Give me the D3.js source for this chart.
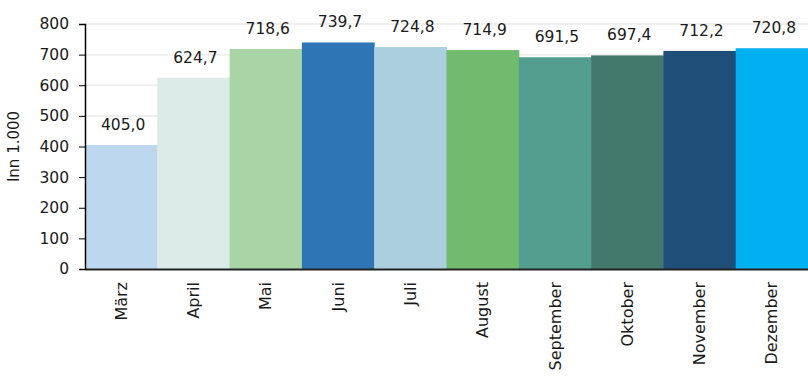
<!DOCTYPE html>
<html>
<head>
<meta charset="utf-8">
<script src="https://cdn.jsdelivr.net/npm/d3@7"></script>
<style>
  body { margin: 0; background: #fff; }
  svg text { font-family: "DejaVu Sans", sans-serif; fill: #1a1a1a; }
</style>
</head>
<body>
<svg id="chart" width="808" height="381"></svg>
<script>
let months = ['März','April','Mai','Juni','Juli','August','September','Oktober','November','Dezember']
let values = [405.0, 624.7, 718.6, 739.7, 724.8, 714.9, 691.5, 697.4, 712.2, 720.8]
let barColors = ['#bdd7ee','#dcebe7','#a9d4a6','#2e75b6','#abcfdf','#72bb6e','#549e8f','#43786c','#1f4e79','#00b0f0']
let yTicks = [0,100,200,300,400,500,600,700,800]

let margin = {top: 24, right: 0, bottom: 112, left: 85}
let svg = d3.select('#chart')
let width = 808 - margin.left - margin.right
let height = 381 - margin.top - margin.bottom

let g = svg.append('g').attr('transform', `translate(${margin.left},${margin.top})`)

let x = d3.scaleBand().domain(months).range([0, width]).padding(0)
let y = d3.scaleLinear().domain([0, 800]).range([height, 0])

// grid
g.selectAll('.grid').data(yTicks.slice(1)).join('line')
  .attr('x1', 0).attr('x2', width)
  .attr('y1', d => y(d)).attr('y2', d => y(d))
  .attr('stroke', '#efefef').attr('stroke-width', 2)

g.selectAll('.bar').data(values).join('rect')
  .attr('x', (d,i) => x(months[i]))
  .attr('y', d => y(d))
  .attr('width', x.bandwidth() + 0.5)
  .attr('height', d => height - y(d))
  .attr('fill', (d,i) => barColors[i])

g.selectAll('.lbl').data(values).join('text')
  .attr('x', (d,i) => x(months[i]) + x.bandwidth()/2 + 2)
  .attr('y', d => y(d) - 15)
  .attr('text-anchor', 'middle')
  .attr('font-size', 15.5)
  .text(d => d.toFixed(1).replace('.', ','))

// y axis
let yAxis = g.append('g').call(d3.axisLeft(y).tickValues(yTicks).tickSize(6).tickPadding(10))
yAxis.select('.domain').attr('stroke', '#000').attr('stroke-width', 1.5)
yAxis.selectAll('.tick line').attr('stroke', '#000')
yAxis.selectAll('text').attr('font-size', 15.5).attr('fill', '#1a1a1a')

// x axis
let xAxis = g.append('g').attr('transform', `translate(0,${height})`)
  .call(d3.axisBottom(x).tickSize(0).tickPadding(0))
xAxis.select('.domain').attr('stroke', '#222').attr('stroke-width', 2)
xAxis.selectAll('text')
  .attr('font-size', 16)
  .attr('fill', '#1a1a1a')
  .attr('transform', 'rotate(-90)')
  .attr('text-anchor', 'end')
  .attr('dy', '0.35em')
  .attr('dx', '-13px')
  .attr('y', 0)
  .attr('x', 0)

svg.append('text')
  .attr('transform', `translate(19,${margin.top + height/2}) rotate(-90)`)
  .attr('text-anchor', 'middle')
  .attr('font-size', 15)
  .text('Inn 1.000')
</script>
</body>
</html>
